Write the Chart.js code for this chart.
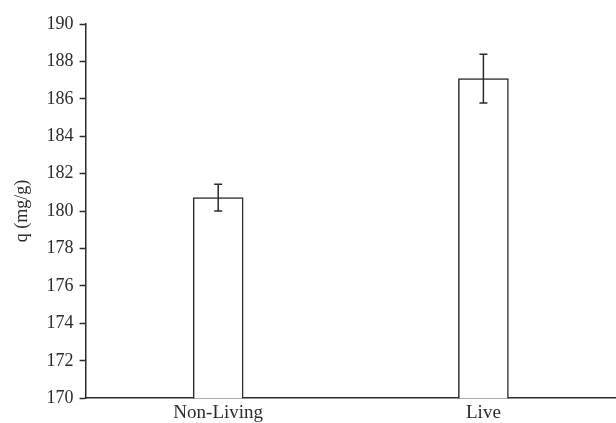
<!DOCTYPE html>
<html>
<head>
<meta charset="utf-8">
<script src="https://cdn.jsdelivr.net/npm/chart.js@4.4.1/dist/chart.umd.min.js"></script>
<style>
  html, body { margin: 0; padding: 0; background: #fff; }
  #wrap { width: 616px; height: 423px; position: relative; }
</style>
</head>
<body>
<div id="wrap"><canvas id="c"></canvas></div>
<script>
// Adsorption capacity by biomass type
const categories = ['Non-Living', 'Live'];
const capacity = [180.72, 187.08];
const capacityError = [0.72, 1.3];
const yTicks = { min: 170, max: 190, step: 2 };

const ink = '#2b2b2b';
const serif = '"Liberation Serif", "Times New Roman", serif';

// Draws symmetric error bars with caps on top of each bar
const errorBars = {
  id: 'errorBars',
  afterDatasetsDraw(chart) {
    const { ctx, scales } = chart;
    const meta = chart.getDatasetMeta(0);
    ctx.save();
    ctx.strokeStyle = ink;
    ctx.lineWidth = 1.5;
    meta.data.forEach((bar, i) => {
      const x = bar.x;
      const yHi = scales.y.getPixelForValue(capacity[i] + capacityError[i]);
      const yLo = scales.y.getPixelForValue(capacity[i] - capacityError[i]);
      ctx.beginPath();
      ctx.moveTo(x, yHi); ctx.lineTo(x, yLo);
      ctx.moveTo(x - 4, yHi); ctx.lineTo(x + 4, yHi);
      ctx.moveTo(x - 4, yLo); ctx.lineTo(x + 4, yLo);
      ctx.stroke();
    });
    ctx.restore();
  }
};

new Chart(document.getElementById('c'), {
  type: 'bar',
  data: {
    labels: categories,
    datasets: [{
      data: capacity,
      backgroundColor: '#ffffff',
      borderColor: ink,
      borderWidth: 1.5,
      barThickness: 50,
      borderSkipped: false
    }]
  },
  options: {
    responsive: true,
    maintainAspectRatio: false,
    animation: false,
    layout: { padding: { top: 24, right: 0, left: 11, bottom: -4 } },
    plugins: { legend: { display: false }, tooltip: { enabled: false } },
    scales: {
      x: {
        grid: { display: true, drawOnChartArea: false, drawTicks: false },
        border: { display: true, color: ink, width: 1.5 },
        ticks: { color: ink, padding: 3, font: { family: serif, size: 19 } }
      },
      y: {
        min: yTicks.min,
        max: yTicks.max,
        grid: { display: true, drawOnChartArea: false, drawTicks: true, tickLength: 6, color: ink, tickWidth: 1.5 },
        border: { display: true, color: ink, width: 1.5 },
        ticks: { stepSize: yTicks.step, color: ink, padding: 6, font: { family: serif, size: 18 } },
        title: { display: true, text: 'q (mg/g)', color: ink, padding: { top: 0, bottom: 8 }, font: { family: serif, size: 18 } }
      }
    }
  },
  plugins: [errorBars]
});
</script>
</body>
</html>
